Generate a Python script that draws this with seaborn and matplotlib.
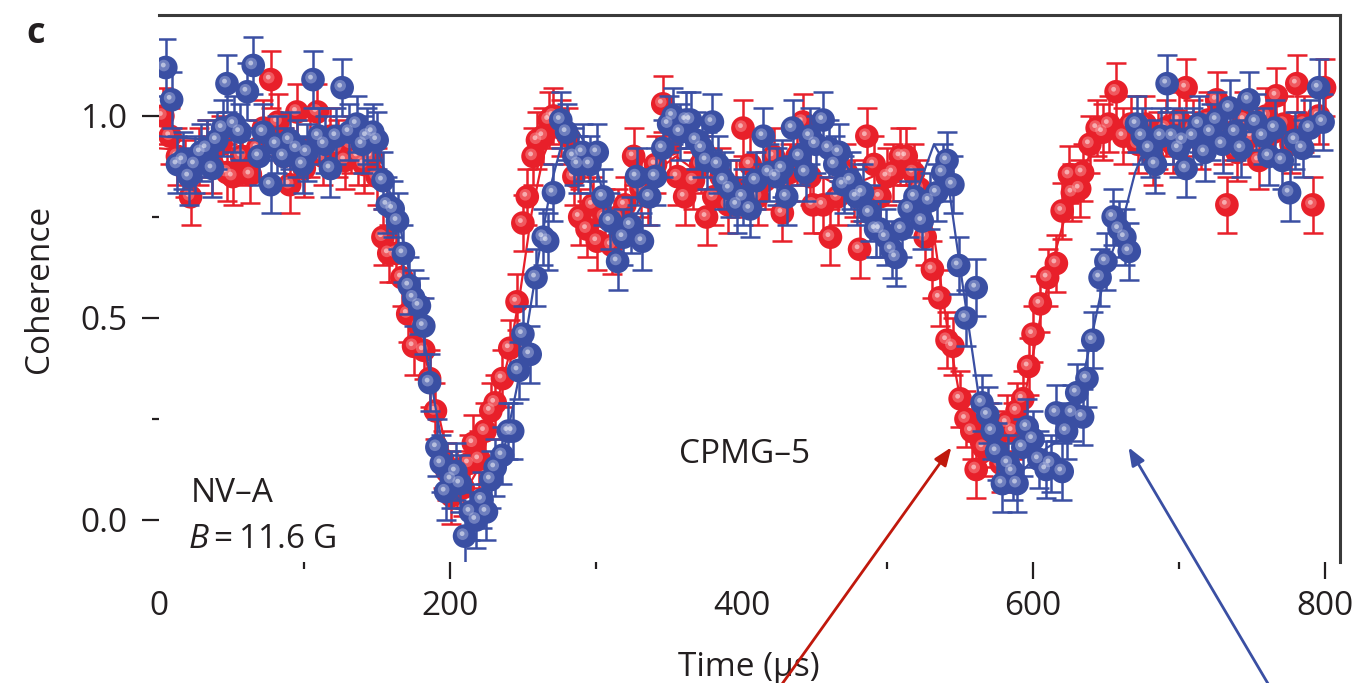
import matplotlib
matplotlib.use("Agg")
import matplotlib.pyplot as plt
from matplotlib.transforms import offset_copy
import seaborn as sns
import numpy as np

# ---- measured coherence, red trace ----
red_t = [3, 8, 13, 18, 22, 28, 33, 37, 43, 47, 51, 57, 63, 68, 72, 77, 82, 86, 90, 95,
         100, 104, 109, 113, 118, 123, 128, 132, 137, 141, 146, 150, 154, 158, 163, 167,
         171, 175, 179, 182, 186, 190, 195, 198, 201, 205, 209, 213, 216, 220, 224, 228,
         231, 236, 241, 246, 250, 253, 257, 260, 264, 268, 271, 276, 281, 285, 289, 294,
         298, 301, 306, 311, 315, 320, 326, 331, 336, 341, 346, 351, 356, 361, 367, 372,
         376, 381, 386, 391, 396, 401, 406, 411, 416, 422, 428, 433, 438, 442, 447, 449,
         456, 461, 466, 472, 477, 481, 486, 491, 495, 500, 504, 509, 513, 518, 522, 526,
         531, 536, 541, 545, 550, 554, 558, 561, 566, 570, 574, 578, 582, 586, 589, 593,
         597, 600, 605, 610, 616, 620, 625, 627, 632, 634, 639, 644, 648, 652, 657, 662,
         667, 672, 677, 682, 686, 691, 696, 700, 705, 710, 715, 720, 726, 730, 733, 737,
         740, 745, 750, 755, 760, 765, 767, 772, 777, 781, 786, 792, 796, 800]
red_c = [1.00, 0.95, 0.90, 0.87, 0.80, 0.90, 0.92, 0.88, 0.93, 0.86, 0.85, 0.90, 0.855, 0.92,
         0.97, 1.09, 0.985, 0.90, 0.83, 1.01, 0.87, 0.92, 1.01, 0.90, 0.95, 0.92, 0.89, 0.93,
         0.90, 0.88, 0.90, 0.85, 0.70, 0.66, 0.66, 0.60, 0.51, 0.43, 0.48, 0.42, 0.35, 0.27,
         0.15, 0.12, 0.06, 0.10, 0.08, 0.14, 0.19, 0.15, 0.22, 0.27, 0.29, 0.35, 0.425, 0.54,
         0.735, 0.80, 0.90, 0.94, 0.95, 0.99, 1.00, 0.97, 0.95, 0.85, 0.75, 0.72, 0.78, 0.69,
         0.75, 0.68, 0.75, 0.78, 0.90, 0.82, 0.80, 0.88, 1.03, 0.93, 0.85, 0.80, 0.84, 0.88,
         0.75, 0.80, 0.85, 0.78, 0.82, 0.97, 0.88, 0.80, 0.84, 0.90, 0.76, 0.86, 0.90, 0.985,
         0.85, 0.78, 0.78, 0.70, 0.80, 0.86, 0.82, 0.67, 0.95, 0.88, 0.80, 0.85, 0.86, 0.90,
         0.90, 0.86, 0.82, 0.70, 0.62, 0.55, 0.445, 0.43, 0.30, 0.25, 0.22, 0.125, 0.18, 0.22,
         0.20, 0.14, 0.24, 0.22, 0.27, 0.30, 0.38, 0.46, 0.535, 0.60, 0.635, 0.765, 0.855, 0.81,
         0.82, 0.86, 0.93, 0.97, 0.96, 0.98, 1.06, 0.95, 0.98, 0.93, 0.98, 0.90, 0.94, 0.97,
         0.93, 0.99, 1.07, 0.97, 0.94, 0.99, 1.04, 0.95, 0.78, 0.96, 0.91, 0.99, 0.95, 0.89,
         1.00, 0.96, 1.05, 0.98, 0.93, 1.08, 0.98, 0.78, 1.00, 1.07]

# ---- measured coherence, blue trace ----
blue_t = [5, 9, 13, 17, 21, 25, 29, 33, 37, 40, 44, 47, 52, 56, 61, 65, 69, 72, 77, 81,
          86, 90, 95, 99, 102, 106, 110, 114, 118, 122, 126, 131, 136, 140, 143, 147, 150,
          154, 157, 161, 164, 168, 172, 175, 179, 182, 186, 191, 194, 197, 201, 204, 207,
          210, 214, 218, 222, 225, 228, 231, 236, 240, 243, 247, 250, 255, 259, 264, 267,
          271, 276, 280, 285, 288, 291, 296, 301, 305, 310, 315, 319, 324, 328, 332, 337,
          341, 346, 350, 353, 358, 362, 365, 369, 373, 376, 380, 384, 388, 392, 397, 401,
          406, 410, 415, 419, 424, 428, 431, 435, 440, 444, 447, 451, 456, 460, 464, 467,
          470, 475, 479, 483, 488, 492, 495, 499, 503, 506, 510, 515, 519, 524, 529, 534,
          538, 541, 545, 549, 554, 561, 565, 569, 572, 575, 579, 583, 586, 589, 593, 596,
          600, 604, 609, 612, 616, 620, 623, 627, 630, 634, 637, 641, 646, 650, 655, 659,
          663, 666, 671, 675, 680, 684, 688, 692, 696, 700, 703, 705, 710, 714, 718, 722,
          726, 730, 735, 739, 743, 748, 753, 758, 762, 766, 771, 776, 780, 785, 790, 796, 799]
blue_c = [1.12, 1.04, 0.88, 0.89, 0.85, 0.88, 0.91, 0.92, 0.87, 0.94, 0.97, 1.08, 0.98, 0.96,
          1.06, 1.125, 0.90, 0.96, 0.83, 0.93, 0.90, 0.94, 0.92, 0.88, 0.91, 1.09, 0.95, 0.93,
          0.87, 0.95, 1.07, 0.96, 0.98, 0.93, 0.95, 0.96, 0.94, 0.84, 0.78, 0.77, 0.74, 0.66,
          0.58, 0.55, 0.53, 0.48, 0.34, 0.18, 0.14, 0.07, 0.10, 0.12, 0.09, -0.04, 0.02, 0.00,
          0.05, 0.02, 0.10, 0.13, 0.16, 0.22, 0.22, 0.37, 0.46, 0.41, 0.60, 0.70, 0.69, 0.81,
          0.99, 0.96, 0.90, 0.88, 0.91, 0.88, 0.91, 0.80, 0.74, 0.64, 0.70, 0.73, 0.85, 0.69,
          0.80, 0.85, 0.92, 0.98, 1.00, 0.96, 0.99, 0.99, 0.94, 0.92, 0.89, 0.985, 0.88, 0.84,
          0.82, 0.78, 0.80, 0.77, 0.84, 0.95, 0.86, 0.85, 0.87, 0.80, 0.97, 0.90, 0.86, 0.95,
          0.93, 0.99, 0.92, 0.88, 0.91, 0.83, 0.84, 0.80, 0.81, 0.76, 0.72, 0.72, 0.70, 0.67,
          0.65, 0.72, 0.77, 0.80, 0.74, 0.79, 0.81, 0.86, 0.89, 0.83, 0.63, 0.50, 0.575, 0.29,
          0.26, 0.22, 0.17, 0.09, 0.14, 0.12, 0.09, 0.18, 0.23, 0.20, 0.15, 0.125, 0.14, 0.265,
          0.12, 0.22, 0.265, 0.315, 0.255, 0.35, 0.445, 0.60, 0.64, 0.75, 0.72, 0.70, 0.665,
          0.98, 0.95, 0.92, 0.88, 0.95, 1.08, 0.95, 0.92, 0.94, 0.87, 0.95, 0.98, 0.91, 0.96,
          0.99, 0.93, 1.02, 0.96, 0.92, 1.04, 0.985, 0.95, 0.90, 0.97, 0.89, 0.81, 0.94, 0.92,
          0.97, 1.07, 0.985]

# ---- fitted curves ----
red_fit_t = [0, 40, 80, 120, 150, 158, 167, 176, 186, 196, 205, 212, 220, 230, 240, 248, 256,
             264, 272, 280, 290, 300, 312, 325, 340, 355, 370, 390, 410, 430, 450, 470, 490,
             505, 515, 525, 533, 541, 550, 558, 566, 575, 585, 595, 605, 615, 625, 635, 645,
             660, 680, 720, 760, 800]
red_fit_c = [0.92, 0.91, 0.92, 0.93, 0.90, 0.80, 0.63, 0.50, 0.36, 0.20, 0.10, 0.08, 0.13,
             0.26, 0.40, 0.56, 0.76, 0.90, 0.97, 0.97, 0.90, 0.80, 0.74, 0.78, 0.86, 0.90,
             0.86, 0.83, 0.85, 0.87, 0.86, 0.82, 0.85, 0.88, 0.88, 0.82, 0.68, 0.48, 0.30,
             0.18, 0.14, 0.16, 0.20, 0.32, 0.50, 0.66, 0.79, 0.88, 0.93, 0.96, 0.97, 0.97,
             0.97, 0.97]
blue_fit_t = [0, 40, 80, 120, 150, 158, 166, 174, 182, 190, 198, 206, 214, 222, 230, 238,
              246, 254, 262, 270, 278, 288, 298, 310, 322, 335, 348, 360, 375, 390, 405, 420,
              440, 460, 475, 490, 505, 515, 525, 532, 540, 547, 555, 563, 571, 580, 590, 600,
              610, 620, 630, 640, 650, 660, 670, 680, 690, 720, 760, 800]
blue_fit_c = [0.95, 0.94, 0.94, 0.95, 0.93, 0.82, 0.72, 0.58, 0.45, 0.28, 0.12, 0.05, 0.01,
              0.03, 0.10, 0.19, 0.33, 0.50, 0.68, 0.84, 0.95, 0.96, 0.90, 0.75, 0.72, 0.80,
              0.92, 0.97, 0.96, 0.86, 0.80, 0.86, 0.92, 0.94, 0.86, 0.76, 0.70, 0.76, 0.86,
              0.93, 0.88, 0.70, 0.50, 0.30, 0.17, 0.11, 0.11, 0.15, 0.18, 0.20, 0.28, 0.45,
              0.62, 0.72, 0.86, 0.95, 0.97, 0.96, 0.96, 0.96]

red_err = 0.07
blue_err = 0.07

x_ticks = [0, 200, 400, 600, 800]
x_minor = [100, 300, 500, 700]
y_ticks = [0.0, 0.5, 1.0]
y_tick_labels = ["0.0", "0.5", "1.0"]
y_minor = [0.25, 0.75]

RED = "#e8202a"
RED_HI = "#ffc4c4"
BLUE = "#3a4fa3"
BLUE_HI = "#d4d9f2"
INK = "#231f20"

sns.set_theme(style="white")
plt.rcParams["font.family"] = ["Open Sans", "DejaVu Sans"]
plt.rcParams["mathtext.fontset"] = "custom"
plt.rcParams["mathtext.it"] = "Open Sans:italic"
plt.rcParams["mathtext.rm"] = "Open Sans"

fig = plt.figure(figsize=(13.62, 6.83), dpi=100)
W, H = 1362, 683
ax = fig.add_axes([158.5 / W, 1 - 562 / H, (1340 - 158.5) / W, (562 - 15) / H])
ax.set_xlim(0, 810.6)
ax.set_ylim(-0.104, 1.25)


def draw_series(t, c, err, fit_t, fit_c, color, hi, z):
    sns.lineplot(x=fit_t, y=fit_c, ax=ax, color=color, lw=1.6, sort=False,
                 estimator=None, zorder=z)
    ax.errorbar(t, c, yerr=err, fmt="none", ecolor=color, elinewidth=1.8,
                capsize=7, capthick=1.8, zorder=z + 0.1)
    sns.scatterplot(x=t, y=c, ax=ax, color=color, s=290, edgecolor="none",
                    linewidth=0, zorder=z + 0.2, legend=False)
    # soft glint on each ball
    sns.scatterplot(x=t, y=c, ax=ax, color=hi, s=70, edgecolor="none",
                    linewidth=0, alpha=0.35, zorder=z + 0.3, legend=False)
    ax.collections[-1].set_offset_transform(
        offset_copy(ax.transData, fig=fig, x=-2.0, y=2.0, units="dots"))
    sns.scatterplot(x=t, y=c, ax=ax, color="white", s=12, edgecolor="none",
                    linewidth=0, alpha=0.5, zorder=z + 0.4, legend=False)
    ax.collections[-1].set_offset_transform(
        offset_copy(ax.transData, fig=fig, x=-2.5, y=2.5, units="dots"))


draw_series(red_t, red_c, red_err, red_fit_t, red_fit_c, RED, RED_HI, 3)
draw_series(blue_t, blue_c, blue_err, blue_fit_t, blue_fit_c, BLUE, BLUE_HI, 4)

# frame: only top and right
for side in ("left", "bottom"):
    ax.spines[side].set_visible(False)
for side in ("top", "right"):
    ax.spines[side].set_visible(True)
    ax.spines[side].set_color("#3a3a3a")
    ax.spines[side].set_linewidth(2.2)

ax.set_xticks(x_ticks)
ax.set_xticks(x_minor, minor=True)
ax.set_yticks(y_ticks)
ax.set_yticklabels(y_tick_labels)
ax.set_yticks(y_minor, minor=True)
ax.tick_params(axis="both", which="major", direction="out", length=12, width=1.6,
               color=INK, labelsize=24, labelcolor=INK, pad=8,
               bottom=True, left=True, top=False, right=False)
ax.tick_params(axis="both", which="minor", direction="out", length=5, width=1.6,
               color=INK, bottom=True, left=True, top=False, right=False)
ax.tick_params(axis="y", which="major", pad=10)
# no tick marks at 0 and 400
for i in (0, 2):
    ax.xaxis.get_major_ticks()[i].tick1line.set_visible(False)

ax.set_xlabel("Time (µs)", fontsize=24, color=INK, labelpad=20)
ax.set_ylabel("Coherence", fontsize=24, color=INK, labelpad=18)

ax.text(-0.112, 0.998, "c", transform=ax.transAxes, fontsize=26, fontweight="bold",
        color=INK, ha="left", va="top")
ax.text(22, 0.045, "NV–A", fontsize=24, color=INK, ha="left", va="baseline")
ax.text(20, -0.07, "$B$\u2009=\u200911.6 G", fontsize=24, color=INK, ha="left",
        va="baseline")
ax.text(357, 0.14, "CPMG–5", fontsize=24, color=INK, ha="left", va="baseline")

# pointers to the two revival dips
ax.annotate("", xy=(544, 0.18), xytext=(427, -0.41), xycoords="data",
            textcoords="data", annotation_clip=False,
            arrowprops=dict(arrowstyle="-|>,head_length=0.9,head_width=0.35",
                            color="#c0180c", lw=2.0, shrinkA=0, shrinkB=0))
ax.annotate("", xy=(665.5, 0.18), xytext=(762, -0.41), xycoords="data",
            textcoords="data", annotation_clip=False,
            arrowprops=dict(arrowstyle="-|>,head_length=0.9,head_width=0.35",
                            color=BLUE, lw=2.0, shrinkA=0, shrinkB=0))

fig.savefig("out.png", dpi=100)
